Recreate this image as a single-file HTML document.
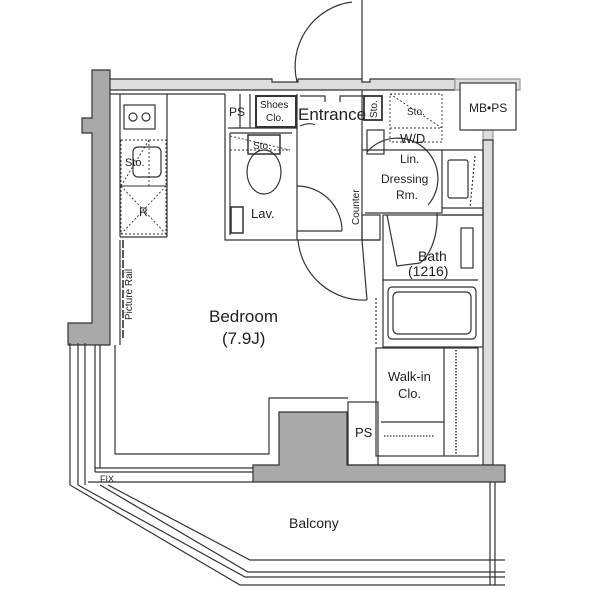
<!DOCTYPE html>
<html><head><style>
html,body{margin:0;padding:0;background:#fff;}
svg{display:block;}
text{font-family:"Liberation Sans",sans-serif;fill:#222;}
</style></head><body>
<svg width="600" height="599" viewBox="0 0 600 599" xmlns="http://www.w3.org/2000/svg">
<g stroke="#333" stroke-width="1.2" fill="none">
<!-- left thick wall -->
<path d="M92,70 H110 V345 H68 V323 H92 V133 H82 V118 H92 Z" fill="#a9a9a9"/>
<!-- top wall -->
<path d="M110,79 H272 V82 H298 V79 H362 V82 H370 V79 H455 V90 H370 V90 H110 Z" fill="#ddd"/>
<path d="M455,79 H520 V90 H493 V140 H483 V130 H470 V90 H455 Z" fill="#ddd" stroke="#999"/>
<rect x="460" y="83" width="56" height="47" fill="#fff"/>
<line x1="110" y1="94" x2="225" y2="94"/>
<!-- right wall -->
<rect x="483" y="140" width="10" height="325" fill="#ddd"/>
<!-- kitchen -->
<line x1="120" y1="94" x2="120" y2="237"/>
<line x1="167" y1="94" x2="167" y2="237"/>
<line x1="120" y1="237" x2="167" y2="237"/>
<rect x="124" y="105" width="31" height="24"/>
<circle cx="133" cy="117" r="4"/><circle cx="146" cy="117" r="4"/>
<rect x="133" y="147" width="28" height="30" rx="5"/>
<g stroke-dasharray="2,2" stroke-width="0.9">
<rect x="121" y="140" width="45" height="46"/>
<line x1="149" y1="140" x2="149" y2="186"/>
<line x1="149" y1="140" x2="121" y2="186"/>
<rect x="121" y="186" width="45" height="48"/>
<line x1="121" y1="186" x2="166" y2="234"/><line x1="166" y1="186" x2="121" y2="234"/>
<line x1="123" y1="240" x2="123" y2="340" stroke-dasharray="8,2" stroke-width="1.6"/>
</g>
<line x1="120" y1="240" x2="120" y2="345"/>
<!-- Lav block -->
<path d="M225,94 V240 H297 M240,94 V128 M250,94 V128 M228,128 H297"/>
<rect x="256" y="96" width="40" height="31" stroke-width="2"/>
<line x1="230" y1="133" x2="292" y2="133"/>
<line x1="230" y1="133" x2="230" y2="235"/>
<rect x="248" y="135" width="32" height="19" stroke-width="1.5"/>
<ellipse cx="264" cy="172" rx="17" ry="22"/>
<rect x="231" y="207" width="12" height="26" stroke-width="1.5"/>
<line x1="297" y1="94" x2="297" y2="240"/>
<path d="M297,231 H342 M297,186 A45,45 0 0 1 342,231"/>
<g stroke-dasharray="2,2" stroke-width="0.9"><line x1="230" y1="136" x2="290" y2="150"/><line x1="230" y1="150" x2="290" y2="150"/></g>
<!-- entrance door -->
<line x1="362" y1="0" x2="362" y2="82"/>
<path d="M297,82 A65,65 0 0 1 352,2"/>
<path d="M300,96 Q310,96 325,96 V102 M365,96 Q350,96 340,96 V102 M300,126 Q310,122 315,125"/>
<!-- right stack -->
<path d="M362,90 V240 M362,150 H442 V213 H365"/>
<rect x="364" y="96" width="18" height="24" stroke-width="1.8"/>
<rect x="367" y="130" width="17" height="24"/>
<rect x="390" y="94" width="52" height="48" stroke-dasharray="2,2" stroke-width="0.9"/>
<line x1="390" y1="94" x2="442" y2="128" stroke-dasharray="2,2" stroke-width="0.9"/>
<line x1="390" y1="128" x2="442" y2="128" stroke-dasharray="2,2" stroke-width="0.9"/>
<path d="M367,152 A40,40 0 0 1 428,205"/>
<path d="M442,150 H483 V215 H442 M442,208 H483"/>
<rect x="448" y="160" width="20" height="38" rx="2"/>
<line x1="475" y1="156" x2="470" y2="208" stroke-dasharray="2,2"/>
<!-- bath -->
<rect x="383" y="215" width="100" height="132"/>
<rect x="461" y="228" width="12" height="40"/>
<path d="M387,215 L397,266 L420,263 M437,213 A30,50 0 0 1 420,263"/>
<line x1="383" y1="280" x2="478" y2="280"/>
<rect x="388" y="287" width="88" height="52" rx="4"/>
<rect x="393" y="292" width="78" height="42" rx="5"/>
<!-- counter -->
<rect x="362" y="215" width="18" height="25"/>
<path d="M297,240 H380"/>
<line x1="362" y1="240" x2="367" y2="300"/>
<path d="M298,240 A66,66 0 0 0 367,300"/>
<line x1="376" y1="298" x2="376" y2="345" stroke-dasharray="2,2"/>
<!-- walk-in -->
<rect x="376" y="348" width="102" height="108"/>
<line x1="444" y1="348" x2="444" y2="456"/>
<line x1="381" y1="422" x2="444" y2="422"/>
<line x1="456" y1="350" x2="456" y2="454" stroke-dasharray="1.5,1.5" stroke-width="1.5"/>
<line x1="384" y1="436" x2="435" y2="436" stroke-dasharray="1.5,1.5"/>
<rect x="348" y="402" width="30" height="63"/>
<!-- bedroom lower walls -->
<path d="M115,345 V454 H253 V454 H269 V398 H348"/>
<path d="M279,412 H347 V465 H505 V482 H253 V465 H279 Z" fill="#a9a9a9"/>
<!-- window bottom -->
<path d="M95,468 H253 M95,472 H253 M95,345 V472 M100,345 V468 M70,343 V485 M78,343 V485 M85,343 V485"/>
<path d="M88,482 H253"/>
<!-- balcony -->
<path d="M70,485 L240,585 H505 M78,485 L245,577 H505 M100,485 L248,572 H505 M108,485 L250,560 H505"/>
<path d="M490,482 V585 M495,482 V585"/>
</g>
<g font-size="12">
<text x="229" y="116">PS</text>
<text x="260" y="108" font-size="10">Shoes</text>
<text x="266" y="121" font-size="10">Clo.</text>
<text x="298" y="120" font-size="17">Entrance</text>
<text x="377" y="118" font-size="10" transform="rotate(-90 377 118)">Sto.</text>
<text x="407" y="115" font-size="10">Sto.</text>
<text x="400" y="143" font-size="13">W/D</text>
<text x="400" y="163">Lin.</text>
<text x="381" y="183">Dressing</text>
<text x="396" y="199">Rm.</text>
<text x="469" y="112" font-size="12">MB•PS</text>
<text x="253" y="149" font-size="10">Sto.</text>
<text x="125" y="166" font-size="11">Sto.</text>
<text x="139" y="216" font-size="12">R</text>
<text x="251" y="218" font-size="13">Lav.</text>
<text x="359" y="225" font-size="10" transform="rotate(-90 359 225)">Counter</text>
<text x="418" y="261" font-size="14">Bath</text>
<text x="408" y="276" font-size="14">(1216)</text>
<text x="132" y="320" font-size="10" transform="rotate(-90 132 320)">Picture Rail</text>
<text x="209" y="322" font-size="17">Bedroom</text>
<text x="222" y="344" font-size="17">(7.9J)</text>
<text x="388" y="381" font-size="13">Walk-in</text>
<text x="398" y="398" font-size="13">Clo.</text>
<text x="355" y="437" font-size="13">PS</text>
<text x="100" y="482" font-size="9">FIX</text>
<text x="289" y="528" font-size="14">Balcony</text>
</g>
</svg>
</body></html>
